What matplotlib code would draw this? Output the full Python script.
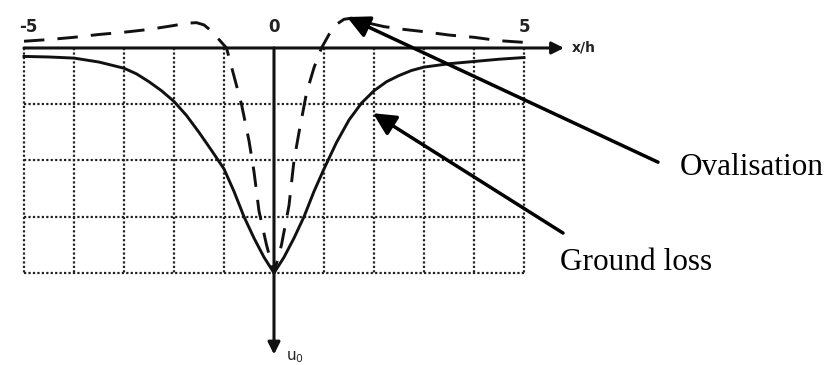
import numpy as np
import matplotlib
matplotlib.use("Agg")
import matplotlib.pyplot as plt

# Settlement trough due to ground loss (solid curve)
x_ground = [-5, -4.5, -4, -3.5, -3, -2.75, -2.5, -2.25, -2, -1.75, -1.5, -1.25, -1, -0.8, -0.6,
            -0.4, -0.2, 0, 0.2, 0.4, 0.6, 0.8, 1, 1.25, 1.5, 1.75, 2, 2.25, 2.5, 2.75, 3,
            3.5, 4, 4.5, 5]
y_ground = [-0.15, -0.16, -0.18, -0.25, -0.36, -0.46, -0.6, -0.76, -0.95, -1.2, -1.5, -1.82,
            -2.15, -2.55, -3.0, -3.38, -3.72, -4, -3.72, -3.38, -3.0, -2.55, -2.15, -1.68,
            -1.28, -0.98, -0.76, -0.6, -0.49, -0.4, -0.34, -0.28, -0.24, -0.2, -0.17]

# Displacement due to ovalisation (dashed curve)
x_oval = [-5, -4.5, -4, -3.5, -3, -2.5, -2, -1.75, -1.55, -1.4, -1.25, -1.1, -0.95, -0.8,
          -0.65, -0.5, -0.4, -0.3, -0.15, 0, 0.15, 0.3, 0.4, 0.5, 0.65, 0.8, 0.95, 1.1, 1.25,
          1.4, 1.55, 1.8, 2.2, 2.6, 3, 3.5, 4, 4.5, 5]
y_oval = [0.12, 0.15, 0.19, 0.24, 0.28, 0.33, 0.4, 0.44, 0.45, 0.41, 0.3, 0.15, 0, -0.5,
          -1.0, -1.65, -2.2, -2.9, -3.5, -4, -3.5, -2.8, -2.0, -1.5, -0.8, -0.35, 0, 0.24,
          0.42, 0.51, 0.53, 0.46, 0.38, 0.33, 0.29, 0.23, 0.19, 0.13, 0.1]

x_ticks = [-5, 0, 5]
grid_x = [-5, -4, -3, -2, -1, 1, 2, 3, 4, 5]
grid_y = [-1, -2, -3, -4]

fig = plt.figure(figsize=(8.34, 3.65), dpi=100)
ax = fig.add_axes([0, 0, 1, 1])
ax.set_xlim(-5.48, 11.2)
ax.set_ylim(-5.636, 0.853)
ax.axis("off")

# dotted grid
for gx in grid_x:
    ax.plot([gx, gx], [0, -4], ls=(0, (1, 1)), color="#222222", lw=1.6)
for gy in grid_y:
    ax.plot([-5, 5], [gy, gy], ls=(0, (1, 1)), color="#222222", lw=1.6)

# axes with arrows
ax.annotate("", xy=(5.8, 0), xytext=(-5, 0),
            arrowprops=dict(arrowstyle="-|>", lw=2.2, color="#111111",
                            mutation_scale=18, shrinkA=0, shrinkB=0))
ax.annotate("", xy=(0, -5.45), xytext=(0, 0),
            arrowprops=dict(arrowstyle="-|>", lw=2.2, color="#111111",
                            mutation_scale=18, shrinkA=0, shrinkB=0))
ax.text(5.95, 0, "x/h", fontsize=10, fontweight="bold", va="center", ha="left", color="#222222")
ax.text(0.25, -5.5, "u$_0$", fontsize=11, va="center", ha="left", color="#222222")

for t in x_ticks:
    ax.text(t + (0.08 if t < 0 else 0), 0.37, str(t), fontsize=12, fontweight="bold",
            ha="center", va="center", color="#222222")

# curves
ax.plot(x_ground, y_ground, color="#111111", lw=2.1)
ax.plot(x_oval, y_oval, color="#111111", lw=2.1, ls=(0, (7, 4.5)))

# labels
arrow = dict(arrowstyle="-|>", lw=2.5, color="black", mutation_scale=34,
             shrinkA=0, shrinkB=0)
ax.annotate("", xy=(1.46, 0.55), xytext=(7.68, -2.03), arrowprops=arrow)
ax.text(8.12, -2.12, "Ovalisation", fontsize=22.5, family="Liberation Serif",
        ha="left", va="center")
ax.annotate("", xy=(1.98, -1.16), xytext=(5.78, -3.29), arrowprops=arrow)
ax.text(5.72, -3.82, "Ground loss", fontsize=22.5, family="Liberation Serif",
        ha="left", va="center")

fig.savefig("out.png", dpi=100)
